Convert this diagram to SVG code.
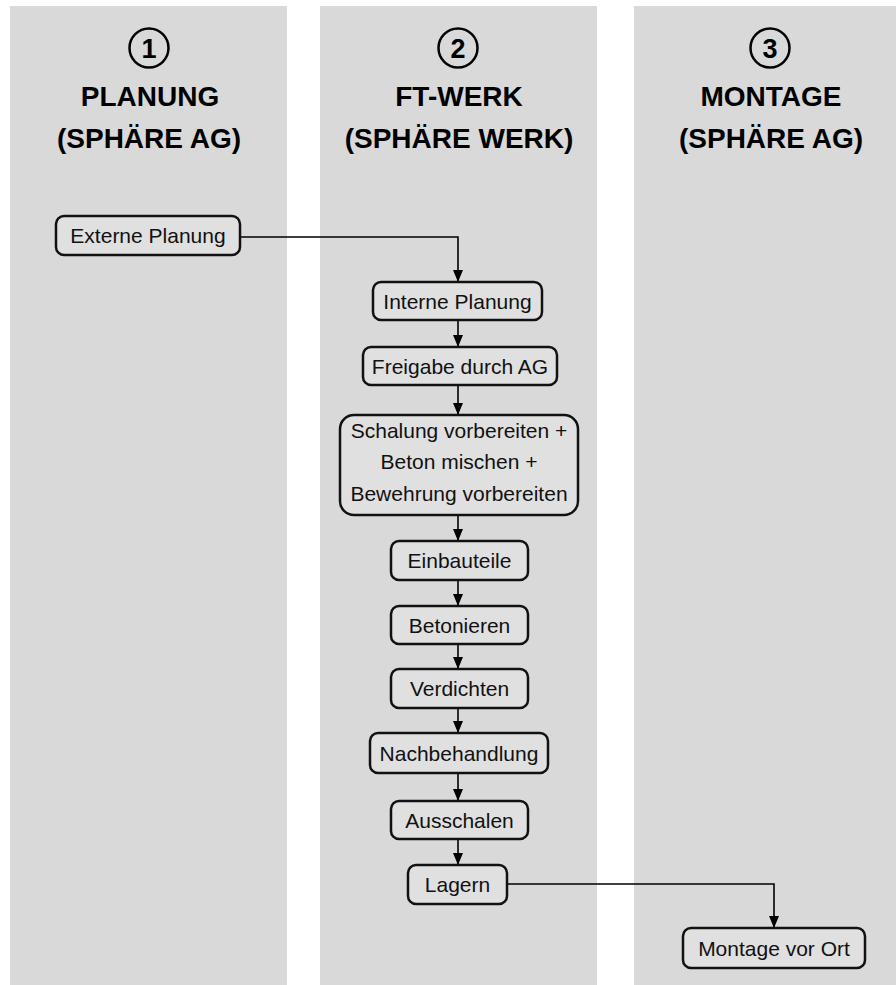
<svg xmlns="http://www.w3.org/2000/svg" width="896" height="985" viewBox="0 0 896 985">
<defs>
<marker id="ah" viewBox="0 0 12 12" refX="12" refY="6" markerWidth="12" markerHeight="12" markerUnits="userSpaceOnUse" orient="auto">
<path d="M0,1 L12,6 L0,11 Z" fill="#000"/>
</marker>
</defs>
<style>
.lane{fill:#d9d9d9}
.hd{font-family:"Liberation Sans",Arial,sans-serif;font-weight:bold;font-size:28px;fill:#000;text-anchor:middle}
.num{font-family:"Liberation Sans",Arial,sans-serif;font-weight:bold;font-size:27px;fill:#000;text-anchor:middle}
.circ{fill:none;stroke:#000;stroke-width:2.5}
.box{fill:#e0e0e0;stroke:#111;stroke-width:2.5}
.t{font-family:"Liberation Sans",Arial,sans-serif;font-size:21px;fill:#111;text-anchor:middle}
.c{fill:none;stroke:#000;stroke-width:1.6}
</style>
<rect width="896" height="985" fill="#fff"/>
<g id="lanes">
<rect class="lane" x="10" y="6" width="277" height="979"/>
<rect class="lane" x="320" y="6" width="277" height="979"/>
<rect class="lane" x="634" y="6" width="262" height="979"/>
</g>
<g id="header1">
<circle class="circ" cx="149" cy="48" r="19.5"/>
<text class="num" x="149" y="57.5">1</text>
<text class="hd" x="150" y="106">PLANUNG</text>
<text class="hd" x="149" y="148">(SPHÄRE AG)</text>
</g>
<g id="header2">
<circle class="circ" cx="458" cy="48" r="19.5"/>
<text class="num" x="458" y="57.5">2</text>
<text class="hd" x="459" y="106">FT-WERK</text>
<text class="hd" x="459" y="148">(SPHÄRE WERK)</text>
</g>
<g id="header3">
<circle class="circ" cx="770" cy="48" r="19.5"/>
<text class="num" x="770" y="57.5">3</text>
<text class="hd" x="771" y="106">MONTAGE</text>
<text class="hd" x="771" y="148">(SPHÄRE AG)</text>
</g>
<g id="connectors">
<path class="c" d="M240,237 H458 V282" marker-end="url(#ah)"/>
<path class="c" d="M458,320 V347" marker-end="url(#ah)"/>
<path class="c" d="M458,385 V415" marker-end="url(#ah)"/>
<path class="c" d="M458,515 V541" marker-end="url(#ah)"/>
<path class="c" d="M458,580 V606" marker-end="url(#ah)"/>
<path class="c" d="M458,644 V669" marker-end="url(#ah)"/>
<path class="c" d="M458,708 V733" marker-end="url(#ah)"/>
<path class="c" d="M458,773 V801" marker-end="url(#ah)"/>
<path class="c" d="M458,839 V865" marker-end="url(#ah)"/>
<path class="c" d="M507,884 H774 V928" marker-end="url(#ah)"/>
</g>
<g id="externe-planung">
<rect class="box" x="56" y="216" width="184" height="39" rx="8"/>
<text class="t" x="148" y="243">Externe Planung</text>
</g>
<g id="interne-planung">
<rect class="box" x="373" y="282" width="169" height="38" rx="8"/>
<text class="t" x="457.5" y="308.5">Interne Planung</text>
</g>
<g id="freigabe">
<rect class="box" x="363" y="347" width="194" height="38" rx="8"/>
<text class="t" x="460" y="373.5">Freigabe durch AG</text>
</g>
<g id="vorbereiten">
<rect class="box" x="340" y="415" width="238" height="100" rx="14"/>
<text class="t" x="459" y="438">Schalung vorbereiten +</text>
<text class="t" x="459" y="469">Beton mischen +</text>
<text class="t" x="459" y="501">Bewehrung vorbereiten</text>
</g>
<g id="einbauteile">
<rect class="box" x="391" y="541" width="137" height="39" rx="8"/>
<text class="t" x="459.5" y="568">Einbauteile</text>
</g>
<g id="betonieren">
<rect class="box" x="391" y="606" width="137" height="38" rx="8"/>
<text class="t" x="459.5" y="632.5">Betonieren</text>
</g>
<g id="verdichten">
<rect class="box" x="391" y="669" width="137" height="39" rx="8"/>
<text class="t" x="459.5" y="696">Verdichten</text>
</g>
<g id="nachbehandlung">
<rect class="box" x="370" y="733" width="178" height="40" rx="8"/>
<text class="t" x="459" y="760.5">Nachbehandlung</text>
</g>
<g id="ausschalen">
<rect class="box" x="391" y="801" width="137" height="38" rx="8"/>
<text class="t" x="459.5" y="827.5">Ausschalen</text>
</g>
<g id="lagern">
<rect class="box" x="408" y="865" width="99" height="39" rx="8"/>
<text class="t" x="457.5" y="892">Lagern</text>
</g>
<g id="montage-vor-ort">
<rect class="box" x="683" y="928" width="182" height="40" rx="8"/>
<text class="t" x="774" y="955.5">Montage vor Ort</text>
</g>
</svg>
